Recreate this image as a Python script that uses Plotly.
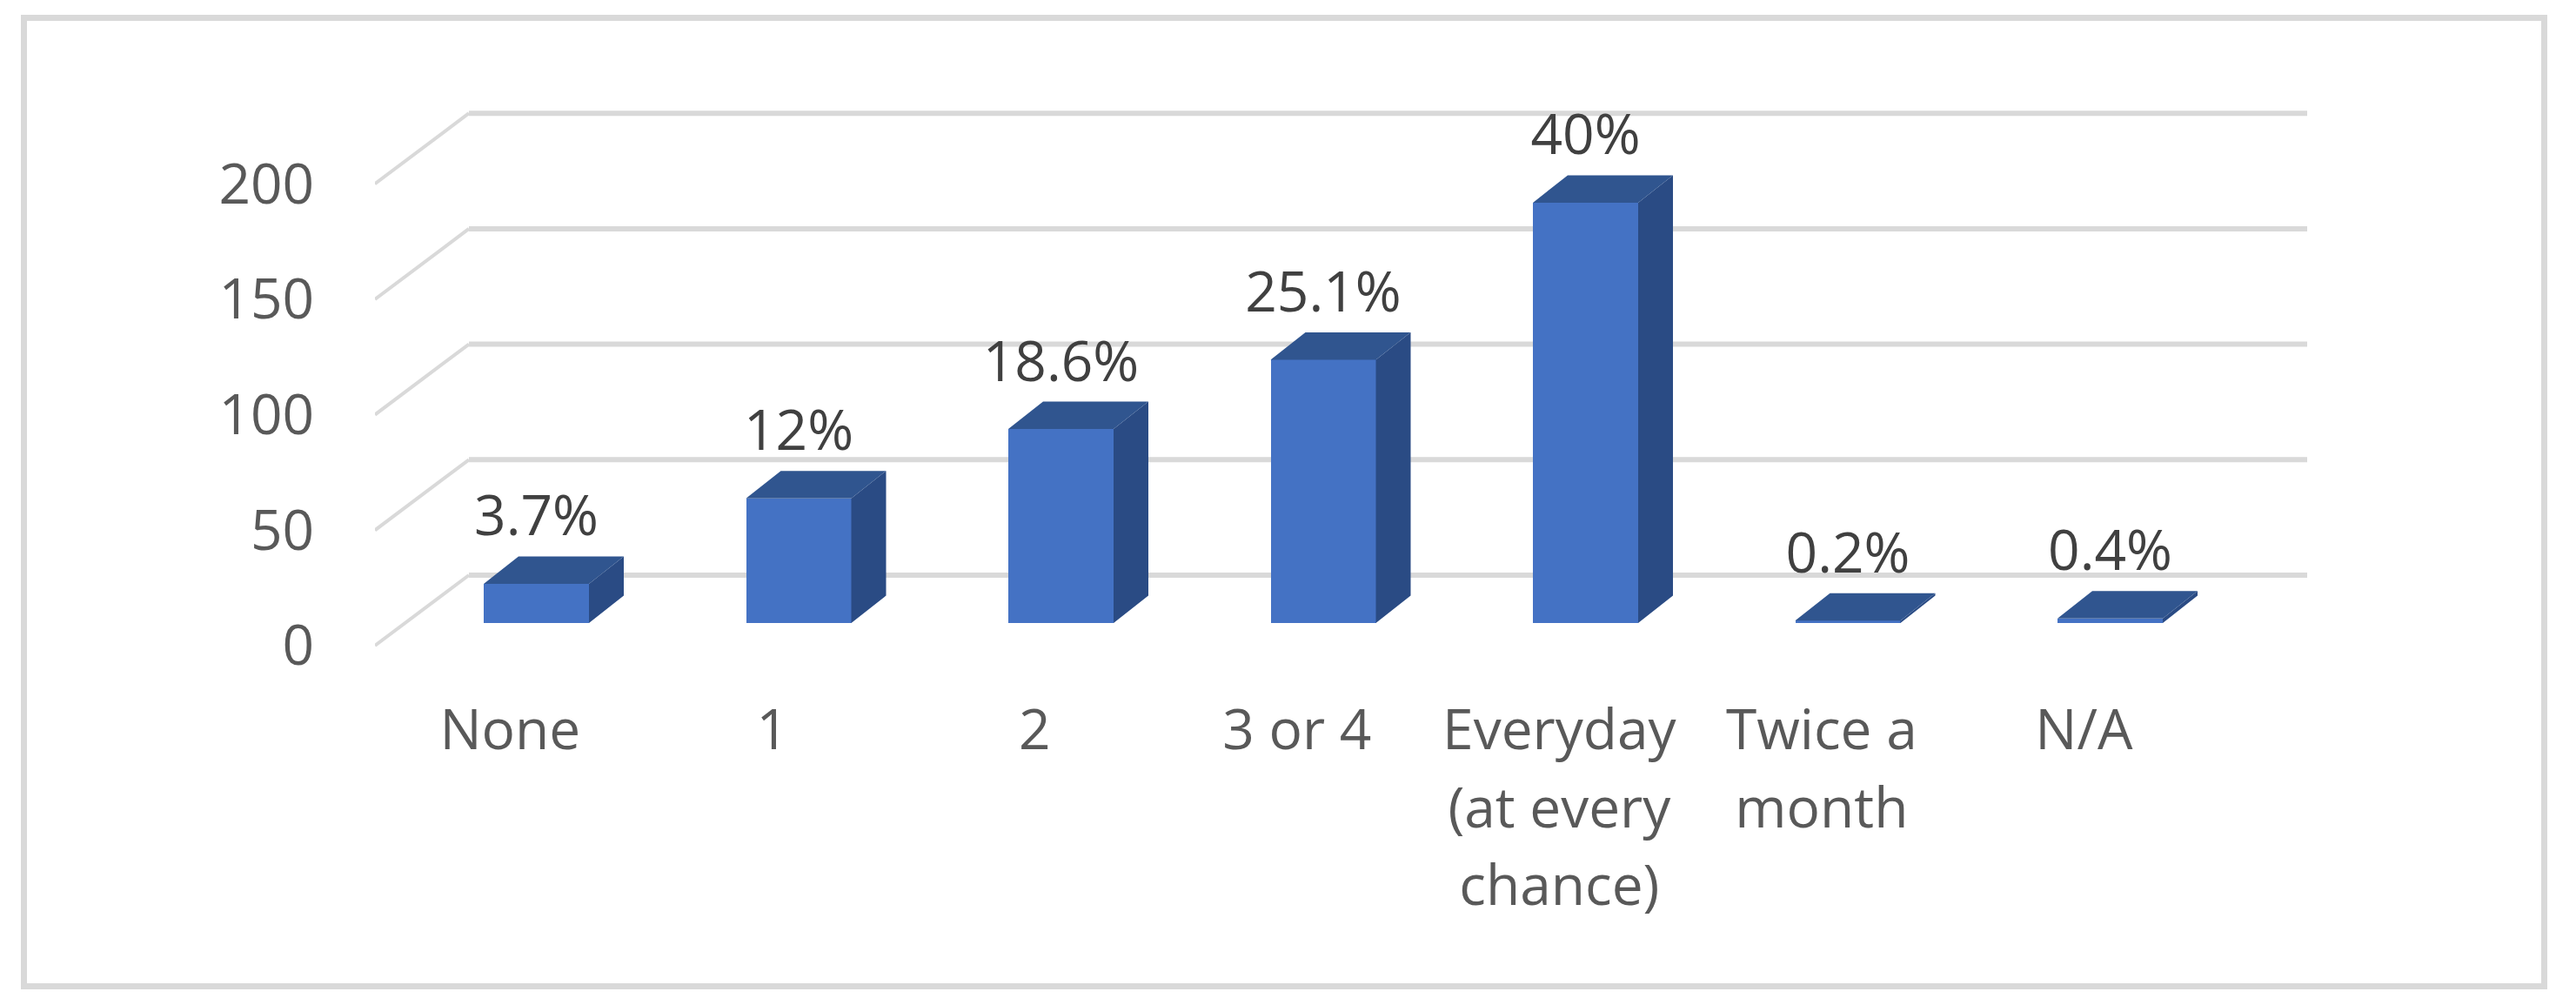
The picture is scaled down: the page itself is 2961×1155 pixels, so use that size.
import plotly.graph_objects as go

# ---- data ----
CATEGORIES = ["None", "1", "2", "3 or 4", "Everyday<br>(at every<br>chance)", "Twice a<br>month", "N/A"]
VALUES = [17, 54, 84, 114, 182, 1, 2]
PERCENT_LABELS = ["3.7%", "12%", "18.6%", "25.1%", "40%", "0.2%", "0.4%"]
Y_TICKS = [0, 50, 100, 150, 200]

# ---- page geometry (pixels) ----
W, H = 2961, 1155
PX_PER_CAT = 301.5      # horizontal pixels per category
X0_PX = 616.5           # pixel of the first bar's centre
PX_PER_VAL = 2.654      # vertical pixels per value unit
Y0_PX = 716             # pixel of the bar base
PLOT_L, PLOT_R, PLOT_T, PLOT_B = 431, 2720, 100, 770

def xu(px): return (px - X0_PX) / PX_PER_CAT
def yu(px): return (Y0_PX - px) / PX_PER_VAL
def du(px): return px / PX_PER_CAT
def dv(px): return px / PX_PER_VAL

BAR_W = du(121)
BAR_DX, BAR_DY = du(40), dv(31.5)
FRONT_X, BACK_X, END_X = xu(431), xu(539), xu(2652)
FRONT_V, BACK_V = dv(-26), dv(55)
LABEL_UP = dv(40)

FRONT = "#4472C4"
TOP = "#30558F"
SIDE = "#2A4B84"
GRID = "#D9D9D9"
AXIS_TXT = "#595959"
LABEL_TXT = "#404040"
FONT = "Open Sans"

fig = go.Figure()

# top and side faces, derived from each value
tx, ty, sx, sy = [], [], [], []
for i, v in enumerate(VALUES):
    l, r = i - BAR_W / 2, i + BAR_W / 2
    tx += [l, r, r + BAR_DX, l + BAR_DX, l, None]
    ty += [v, v, v + BAR_DY, v + BAR_DY, v, None]
    sx += [r, r + BAR_DX, r + BAR_DX, r, r, None]
    sy += [0, BAR_DY, v + BAR_DY, v, 0, None]

fig.add_trace(go.Bar(x=list(range(len(VALUES))), y=VALUES, width=BAR_W,
                     marker=dict(color=FRONT, line_width=0), showlegend=False))
fig.add_trace(go.Scatter(x=sx, y=sy, mode="lines", fill="toself", fillcolor=SIDE,
                         line=dict(width=0), showlegend=False, cliponaxis=False))
fig.add_trace(go.Scatter(x=tx, y=ty, mode="lines", fill="toself", fillcolor=TOP,
                         line=dict(width=0), showlegend=False, cliponaxis=False))
fig.add_trace(go.Scatter(x=list(range(len(VALUES))),
                         y=[v + BAR_DY + LABEL_UP for v in VALUES],
                         mode="text", text=PERCENT_LABELS, textposition="middle center",
                         textfont=dict(family=FONT, size=64, color=LABEL_TXT),
                         showlegend=False, cliponaxis=False))

# gridlines: floor-to-wall diagonal plus back-wall horizontal
shapes = []
for t in Y_TICKS:
    shapes.append(dict(type="line", xref="x", yref="y", layer="below",
                       x0=FRONT_X, y0=t + FRONT_V, x1=BACK_X, y1=t + BACK_V,
                       line=dict(color=GRID, width=4)))
    shapes.append(dict(type="line", xref="x", yref="y", layer="below",
                       x0=BACK_X, y0=t + BACK_V, x1=END_X, y1=t + BACK_V,
                       line=dict(color=GRID, width=6)))
# outer frame
shapes.append(dict(type="rect", xref="paper", yref="paper", layer="below",
                   x0=(27.5 - PLOT_L) / (PLOT_R - PLOT_L),
                   x1=(2924.5 - PLOT_L) / (PLOT_R - PLOT_L),
                   y0=(PLOT_B - 1133.5) / (PLOT_B - PLOT_T),
                   y1=(PLOT_B - 20.5) / (PLOT_B - PLOT_T),
                   line=dict(color=GRID, width=7)))

def wrap(label):
    return "<br>".join(f'<span style="font-size:64px">{p}</span>' for p in label.split("<br>"))

fig.update_layout(
    width=W, height=H, autosize=False,
    margin=dict(l=PLOT_L, r=W - PLOT_R, t=PLOT_T, b=H - PLOT_B, pad=0),
    paper_bgcolor="white", plot_bgcolor="rgba(0,0,0,0)",
    shapes=shapes, showlegend=False, bargap=0,
    font=dict(family=FONT),
    xaxis=dict(range=[xu(PLOT_L), xu(PLOT_R)], showgrid=False, zeroline=False, showline=False,
               tickmode="array", tickvals=[i - 0.1 for i in range(len(CATEGORIES))],
               ticktext=[wrap(c) for c in CATEGORIES], tickangle=0,
               ticks="outside", ticklen=7, tickcolor="rgba(0,0,0,0)",
               tickfont=dict(family=FONT, size=69, color=AXIS_TXT)),
    yaxis=dict(range=[yu(PLOT_B), yu(PLOT_T)], showgrid=False, zeroline=False, showline=False,
               tickmode="array", tickvals=[t + FRONT_V for t in Y_TICKS],
               ticktext=[str(t) for t in Y_TICKS],
               ticks="outside", ticklen=56, tickcolor="rgba(0,0,0,0)",
               tickfont=dict(family=FONT, size=64, color=AXIS_TXT)),
)

fig.write_html("out.html", config=dict(displayModeBar=False),
               post_script="document.body.style.margin='0';document.body.style.overflow='hidden';")
